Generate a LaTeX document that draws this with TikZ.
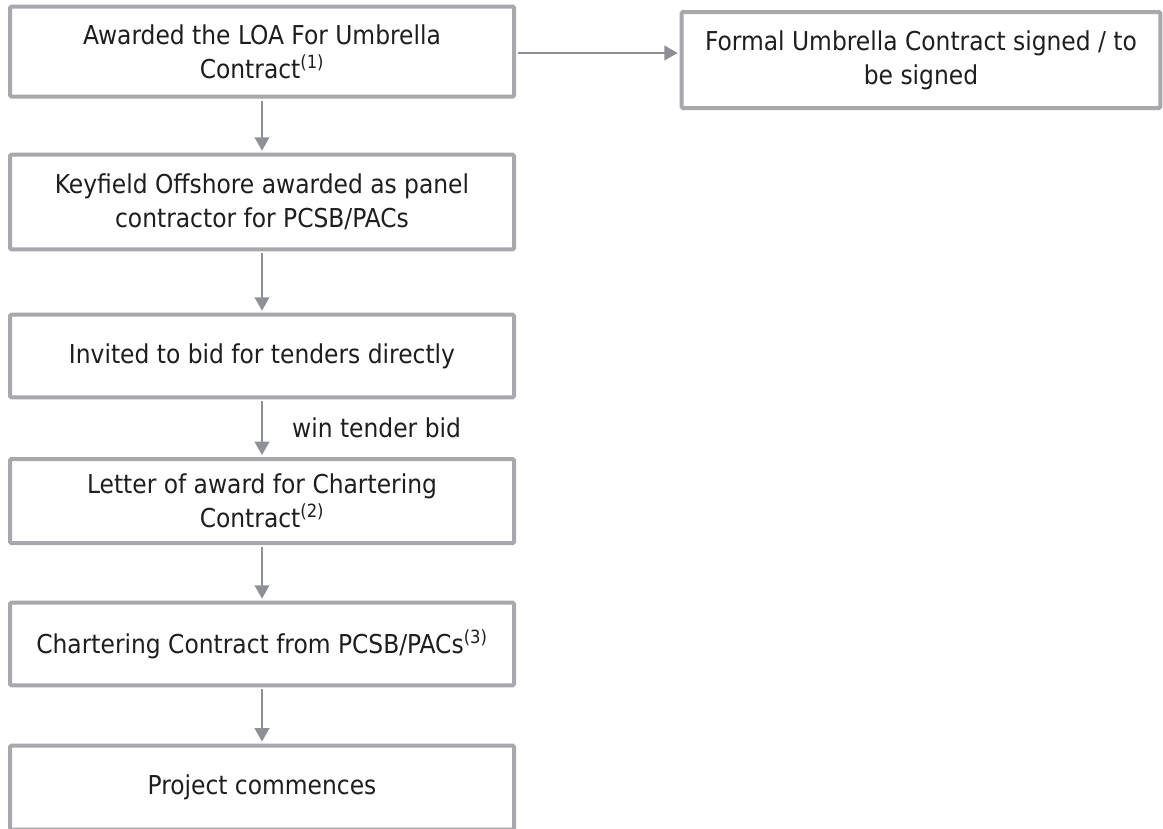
\documentclass[tikz,border=0pt]{standalone}
\usepackage{fontspec}
\setmainfont{DejaVu Sans Condensed}
\usetikzlibrary{arrows.meta}
\definecolor{boxgray}{HTML}{A7A8AC}
\definecolor{arrgray}{HTML}{8E9095}
\definecolor{txt}{HTML}{1E1E1E}
\tikzset{
  flowbox/.style={draw=boxgray, line width=3pt, fill=white, rounded corners=1pt,
    inner sep=0pt, align=center, text=txt, font=\fontsize{19.5}{25.5}\selectfont},
  flowarrow/.style={draw=arrgray, line width=1.3pt,
    -{Triangle[width=11pt,length=10pt]}, shorten <=1.5pt, shorten >=1.5pt},
  lbl/.style={text=txt, font=\fontsize{19.5}{25.5}\selectfont, inner sep=0pt}
}
\begin{document}
\begin{tikzpicture}[x=0.75pt,y=-0.75pt]
\useasboundingbox (0,0) rectangle (1163,828);
\node[flowbox, minimum width=378pt, minimum height=67.5pt] (b1) at (262,51.5)
  {Awarded the LOA For Umbrella\\Contract\textsuperscript{(1)}};
\node[flowbox, minimum width=359pt, minimum height=72pt] (rb) at (921,60)
  {Formal Umbrella Contract signed / to\\be signed};
\node[flowbox, minimum width=378pt, minimum height=71pt] (b2) at (262,202)
  {Keyfield Offshore awarded as panel\\contractor for PCSB/PACs};
\node[flowbox, minimum width=378pt, minimum height=62pt] (b3) at (262,356)
  {Invited to bid for tenders directly};
\node[flowbox, minimum width=378pt, minimum height=63pt] (b4) at (262,501)
  {Letter of award for Chartering\\Contract\textsuperscript{(2)}};
\node[flowbox, minimum width=378pt, minimum height=62pt] (b5) at (262,644)
  {Chartering Contract from PCSB/PACs\textsuperscript{(3)}};
\node[flowbox, minimum width=378pt, minimum height=63pt] (b6) at (262,787.5)
  {Project commences};
\draw[flowarrow] (b1.east |- 0,53) -- (rb.west |- 0,53);
\draw[flowarrow] (b1) -- (b2);
\draw[flowarrow] (b2) -- (b3);
\draw[flowarrow] (b3) -- node[lbl, right=22pt] (wl) {win tender bid} (b4);
\draw[flowarrow] (b4) -- (b5);
\draw[flowarrow] (b5) -- (b6);
\end{tikzpicture}
\end{document}
